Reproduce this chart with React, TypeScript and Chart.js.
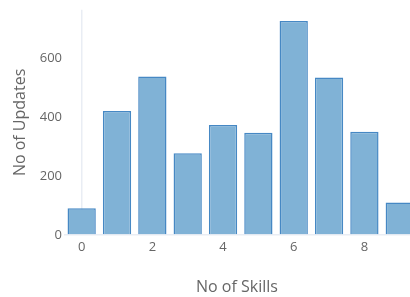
import React, { useEffect, useRef } from "react";
import { Chart, registerables } from "chart.js";

Chart.register(...registerables);

const skills = [0, 1, 2, 3, 4, 5, 6, 7, 8, 9];
const updates = [91, 421, 538, 278, 374, 347, 727, 535, 351, 110];
const xTickValues = [0, 2, 4, 6, 8];
const yTickValues = [0, 200, 400, 600];
const xTitle = "No of Skills";
const yTitle = "No of Updates";

export default function App() {
  const ref = useRef<HTMLCanvasElement | null>(null);
  useEffect(() => {
    document.body.style.margin = "0";
    const ctx = ref.current!.getContext("2d")!;
    const gridColor = (c: any) => (c.tick && c.tick.value === 0 ? "#e9edf4" : "transparent");
    const chart = new Chart(ctx, {
      type: "bar",
      data: {
        datasets: [
          {
            data: skills.map((s, i) => ({ x: s, y: updates[i] })),
            backgroundColor: "rgba(128,178,214,1)",
            borderColor: "rgba(70,136,196,1)",
            borderWidth: 1.5,
            categoryPercentage: 1,
            barPercentage: 0.8,
          },
        ],
      },
      options: {
        animation: false,
        responsive: false,
        maintainAspectRatio: false,
        layout: { padding: { top: 6, right: 0, bottom: 0, left: 0 } },
        plugins: { legend: { display: false }, tooltip: { enabled: false } },
        scales: {
          x: {
            type: "linear",
            offset: false,
            min: -0.5,
            max: 9.29,
            afterBuildTicks: (s: any) => {
              s.ticks = xTickValues.map((v) => ({ value: v }));
            },
            afterFit: (s: any) => {
              s.height = 62;
            },
            border: { display: false },
            grid: { drawTicks: false, offset: false, color: gridColor, lineWidth: 1.5 },
            ticks: {
              padding: 4,
              color: "#666",
              font: { family: "'Open Sans'", size: 13 },
            },
            title: {
              display: true,
              text: xTitle,
              color: "#666",
              font: { family: "'Open Sans'", size: 16 },
              padding: { top: 6, bottom: 0 },
            },
          },
          y: {
            min: 0,
            max: 765,
            afterBuildTicks: (s: any) => {
              s.ticks = yTickValues.map((v) => ({ value: v }));
            },
            afterFit: (s: any) => {
              s.width = 64;
            },
            border: { display: false },
            grid: { drawTicks: false, color: gridColor, lineWidth: 1.5 },
            ticks: {
              padding: 2,
              color: "#666",
              font: { family: "'Open Sans'", size: 13 },
            },
            title: {
              display: true,
              text: yTitle,
              color: "#666",
              font: { family: "'Open Sans'", size: 16 },
              padding: { top: 11, bottom: 0 },
            },
          },
        },
      },
    });
    return () => chart.destroy();
  }, []);
  return (
    <div style={{ width: 410, height: 297 }}>
      <canvas ref={ref} width={410} height={297} style={{ display: "block" }} />
    </div>
  );
}
